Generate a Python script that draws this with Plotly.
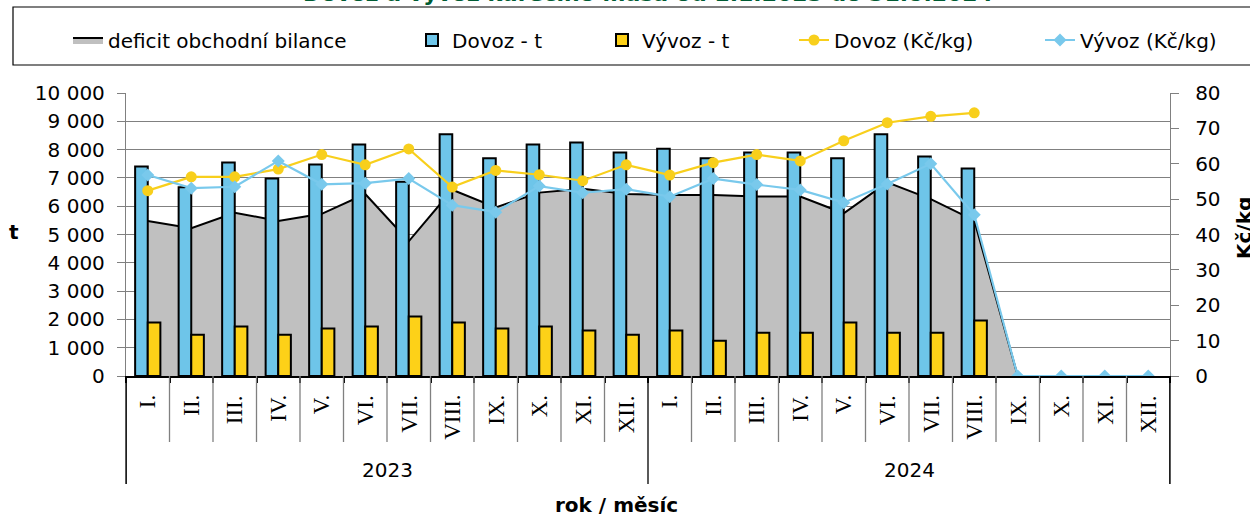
import plotly.graph_objects as go

# ---------------- data ----------------
years = ["2023", "2024"]
months = ["I.", "II.", "III.", "IV.", "V.", "VI.", "VII.", "VIII.", "IX.", "X.", "XI.", "XII."]
categories = [f"{m} {y}" for y in years for m in months]

dovoz_t = [7400, 6670, 7540, 6980, 7470, 8180, 6860, 8540, 7690, 8180, 8250, 7900,
           8030, 7690, 7900, 7900, 7690, 8540, 7760, 7330, None, None, None, None]
vyvoz_t = [1890, 1460, 1750, 1460, 1680, 1750, 2100, 1890, 1680, 1750, 1610, 1460,
           1610, 1250, 1530, 1530, 1890, 1530, 1530, 1960, None, None, None, None]
deficit_t = [5480, 5220, 5770, 5480, 5730, 6430, 4760, 6580, 5960, 6480, 6620, 6430,
             6400, 6400, 6340, 6340, 5750, 6840, 6250, 5500, 0, 0, 0, 0]
dovoz_kc = [52.4, 56.3, 56.3, 58.5, 62.6, 59.7, 64.2, 53.4, 58.1, 56.9, 55.2, 59.7,
            56.8, 60.3, 62.6, 60.8, 66.5, 71.6, 73.4, 74.4, None, None, None, None]
vyvoz_kc = [56.8, 53.1, 53.5, 60.8, 54.2, 54.5, 55.8, 48.3, 46.3, 53.7, 51.8, 52.8,
            50.7, 55.8, 54.1, 52.6, 49.0, 54.3, 60.0, 45.6, 0, 0, 0, 0]

title_text = "Dovoz a vývoz kuřecího masa od 1.1.2023 do 31.8.2024"

# ---------------- styling ----------------
W, H = 1250, 516
L, R, T, B = 126, 1170, 93, 376
SANS = "DejaVu Sans, Verdana, sans-serif"
SERIF = "Liberation Serif, Times New Roman, serif"
GRAY_AREA = "#C0C0C0"
BLUE = "#6EC5E9"
YELLOW = "#FDD118"
LINE_YEL = "#F8CF1C"
LINE_BLUE = "#79C9EC"
GRID = "#808080"


def py(p):
    """pixel row -> paper y"""
    return (B - p) / (B - T)


def px(p):
    """pixel column -> paper x"""
    return (p - L) / (R - L)


fig = go.Figure()

fig.add_trace(go.Scatter(
    x=categories, y=deficit_t, name="deficit obchodní bilance", mode="lines",
    fill="tozeroy", fillcolor=GRAY_AREA, line=dict(color="black", width=2),
    yaxis="y", legend="legend"))

fig.add_trace(go.Bar(
    x=categories, y=dovoz_t, name="Dovoz - t",
    marker=dict(color=BLUE, line=dict(color="black", width=2)),
    yaxis="y2", legend="legend2"))
fig.add_trace(go.Bar(
    x=categories, y=vyvoz_t, name="Vývoz - t",
    marker=dict(color=YELLOW, line=dict(color="black", width=2)),
    yaxis="y2", legend="legend3"))

fig.add_trace(go.Scatter(
    x=categories, y=dovoz_kc, name="Dovoz (Kč/kg)", mode="lines+markers",
    line=dict(color=LINE_YEL, width=2.2), marker=dict(symbol="circle", size=11, color=LINE_YEL),
    yaxis="y3", legend="legend4"))
fig.add_trace(go.Scatter(
    x=categories, y=vyvoz_kc, name="Vývoz (Kč/kg)", mode="lines+markers",
    line=dict(color=LINE_BLUE, width=2.2), marker=dict(symbol="diamond", size=10, color=LINE_BLUE),
    yaxis="y3", legend="legend5"))

# ---------------- shapes: x-axis dividers, legend box ----------------
shapes = []
n = len(categories)
for i in range(1, n):
    if i % len(months) == 0:
        continue
    shapes.append(dict(type="line", xref="x", yref="paper", x0=i - 0.5, x1=i - 0.5,
                       y0=0, y1=py(442), line=dict(color=GRID, width=1.3)))
for i in range(0, n + 1, len(months)):
    shapes.append(dict(type="line", xref="x", yref="paper", x0=i - 0.5, x1=i - 0.5,
                       y0=0, y1=py(484), line=dict(color="black", width=1.3)))
shapes.append(dict(type="line", xref="paper", yref="paper", x0=0, x1=0, y0=0, y1=py(484),
                   line=dict(color="black", width=1.3)))
shapes.append(dict(type="line", xref="paper", yref="paper", x0=1, x1=1, y0=0, y1=py(484),
                   line=dict(color="black", width=1.3)))
# legend frame
shapes.append(dict(type="rect", xref="paper", yref="paper", x0=px(13), x1=px(1262),
                   y0=py(65), y1=py(7), line=dict(color="black", width=1.2),
                   fillcolor="rgba(0,0,0,0)"))

# ---------------- annotations ----------------
ann = []
for c, m in zip(categories, months * len(years)):
    ann.append(dict(x=c, xref="x", y=py(393), yref="paper", text=m, showarrow=False,
                    textangle=-90, xanchor="center", yanchor="top",
                    font=dict(family=SERIF, size=23, color="black")))
for k, y in enumerate(years):
    ann.append(dict(x=k * len(months) + (len(months) - 1) / 2, xref="x", y=py(470), yref="paper",
                    text=y, showarrow=False, xanchor="center", yanchor="middle",
                    font=dict(family=SANS, size=20, color="black")))
ann.append(dict(x=px(616), xref="paper", y=py(505), yref="paper", text="<b>rok / měsíc</b>",
                showarrow=False, xanchor="center", yanchor="middle",
                font=dict(family=SANS, size=20, color="black")))
ann.append(dict(x=px(14), xref="paper", y=py(232), yref="paper", text="<b>t</b>",
                showarrow=False, xanchor="center", yanchor="middle",
                font=dict(family=SANS, size=20, color="black")))
ann.append(dict(x=px(1244), xref="paper", y=py(228), yref="paper", text="<b>Kč/kg</b>",
                showarrow=False, textangle=-90, xanchor="center", yanchor="middle",
                font=dict(family=SANS, size=20, color="black")))
ann.append(dict(x=px(648), xref="paper", y=py(8), yref="paper", text="<b>" + title_text + "</b>",
                showarrow=False, xanchor="center", yanchor="bottom",
                font=dict(family=SANS, size=22, color="#005C33")))

# ---------------- legends ----------------
leg_font = dict(family=SANS, size=20, color="black")
leg_y = 1 - 40 / H


def leg(text_x):
    return dict(xref="container", yref="container", x=(text_x - 40) / W, y=leg_y,
                xanchor="left", yanchor="middle", orientation="h", font=leg_font,
                bgcolor="rgba(0,0,0,0)", borderwidth=0)


fig.update_layout(
    width=W, height=H, autosize=False,
    margin=dict(l=L, r=W - R, t=T, b=H - B, autoexpand=False),
    paper_bgcolor="white", plot_bgcolor="white",
    separators=", ",
    barmode="group", bargap=0.42, bargroupgap=0,
    showlegend=True,
    legend=leg(108), legend2=leg(452), legend3=leg(642), legend4=leg(834), legend5=leg(1080),
    xaxis=dict(type="category", categoryorder="array", categoryarray=categories,
               range=[-0.5, n - 0.5], showticklabels=False, showgrid=False,
               showline=True, linecolor="black", linewidth=1.5,
               ticks="outside", tickson="boundaries", ticklen=5, tickcolor="black", tickwidth=1.5,
               zeroline=False, fixedrange=True),
    yaxis=dict(range=[0, 10000], dtick=1000, tickformat=",d", showgrid=True, gridcolor=GRID,
               gridwidth=1, showline=True, linecolor=GRID, linewidth=1.3,
               ticks="outside", ticklen=8, tickcolor=GRID, ticklabelstandoff=8,
               tickfont=dict(family=SANS, size=20, color="black"), zeroline=False),
    yaxis2=dict(range=[0, 10000], overlaying="y", visible=False, showgrid=False, zeroline=False),
    yaxis3=dict(range=[0, 80], dtick=10, overlaying="y", side="right", showgrid=False,
                showline=True, linecolor=GRID, linewidth=1.3, ticks="outside", ticklen=8,
                tickcolor=GRID, ticklabelstandoff=12,
                tickfont=dict(family=SANS, size=20, color="black"), zeroline=False),
    shapes=shapes, annotations=ann,
)

fig.write_html("out.html", config={"displayModeBar": False},
               post_script="document.body.style.margin='0';document.body.style.overflow='hidden';")
